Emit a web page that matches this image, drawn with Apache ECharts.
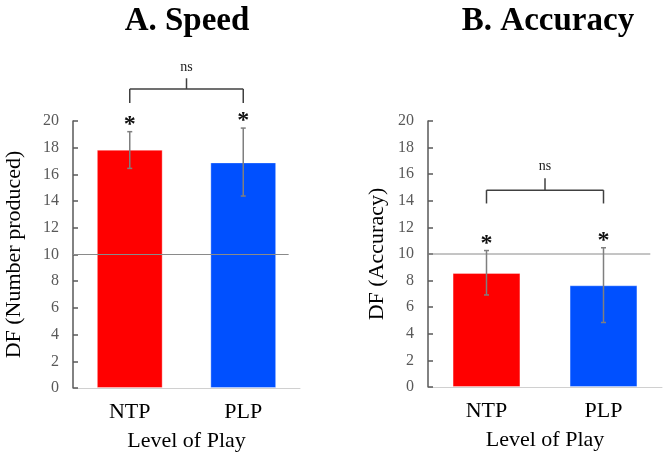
<!DOCTYPE html>
<html>
<head>
<meta charset="utf-8">
<script src="https://cdn.jsdelivr.net/npm/echarts@6/dist/echarts.min.js"></script>
<style>html,body{margin:0;padding:0;background:#fff;}#c{width:664px;height:453px;}</style>
</head>
<body>
<div id="c"></div>
<script>
const categories = ['NTP', 'PLP'];
const speedMeans = [17.85, 16.9];
const speedLow = [16.45, 14.38];
const speedHigh = [19.2, 19.47];
const accMeans = [8.58, 7.65];
const accLow = [6.92, 4.85];
const accHigh = [10.26, 10.47];
const yTicks = [0, 20, 2];
const refValue = 10;
const titles = ['A. Speed', 'B. Accuracy'];
const yNames = ['DF (Number produced)', 'DF (Accuracy)'];
const xName = 'Level of Play';
const barColors = ['#FF0000', '#0050FF'];
const sigMarks = ['*', '*'];
const nsLabel = 'ns';

const SERIF = '"Liberation Serif", "DejaVu Serif", serif';
const chart = echarts.init(document.getElementById('c'), null, {renderer: 'canvas'});

// bracket placement (in value units) for each panel
const bracketCfg = [
  {base: 22.4, leg: 21.35, tick: 23.2, text: 24.0},
  {base: 14.8, leg: 13.8, tick: 15.7, text: 16.6}
];

function yAxisFor(idx, nameGap) {
  return {
    type: 'value', gridIndex: idx, min: yTicks[0], max: yTicks[1], interval: yTicks[2],
    name: yNames[idx], nameLocation: 'middle', nameGap: nameGap, nameRotate: 90,
    nameTextStyle: {fontFamily: SERIF, fontSize: 22, color: '#000'},
    axisLine: {show: true, lineStyle: {color: '#595959', width: 1.5}},
    axisTick: {show: true, inside: true, length: 5, lineStyle: {color: '#595959', width: 1.5}},
    axisLabel: {fontFamily: SERIF, fontSize: 16, color: '#595959', margin: 14},
    splitLine: {show: false}
  };
}
function xAxisFor(idx) {
  return {
    type: 'category', gridIndex: idx, data: categories,
    name: xName, nameLocation: 'middle', nameGap: 42,
    nameTextStyle: {fontFamily: SERIF, fontSize: 22, color: '#000'},
    axisLine: {show: true, lineStyle: {color: '#d0d0d0', width: 1}},
    axisTick: {show: false},
    axisLabel: {fontFamily: SERIF, fontSize: 22, color: '#000', margin: 13}
  };
}

function barSeries(idx, means) {
  return {
    type: 'bar', xAxisIndex: idx, yAxisIndex: idx, barWidth: '58%', z: 2,
    data: means.map((v, i) => ({value: v, itemStyle: {color: barColors[i], borderColor: 'rgba(255,255,255,0.35)', borderWidth: 1}})),
    silent: true, animation: false
  };
}

function errorSeries(idx, means, low, high) {
  return {
    type: 'custom', xAxisIndex: idx, yAxisIndex: idx, clip: false, animation: false, silent: true, z: 6,
    data: means.map((m, i) => [i, m, low[i], high[i]]),
    renderItem: function (params, api) {
      const i = api.value(0);
      const pHi = api.coord([i, api.value(3)]);
      const pLo = api.coord([i, api.value(2)]);
      const st = {stroke: '#7f7f7f', lineWidth: 1.5};
      return {
        type: 'group', children: [
          {type: 'line', shape: {x1: pHi[0], y1: pHi[1], x2: pLo[0], y2: pLo[1]}, style: st},
          {type: 'line', shape: {x1: pHi[0] - 2.5, y1: pHi[1], x2: pHi[0] + 2.5, y2: pHi[1]}, style: st},
          {type: 'line', shape: {x1: pLo[0] - 2.5, y1: pLo[1], x2: pLo[0] + 2.5, y2: pLo[1]}, style: st},
          {type: 'text', style: {text: sigMarks[i], x: pHi[0], y: pHi[1] - 7, align: 'center', verticalAlign: 'middle',
            font: 'bold 24px ' + SERIF, fill: '#111'}}
        ]
      };
    }
  };
}

function annotSeries(idx) {
  const b = bracketCfg[idx];
  return {
    type: 'custom', xAxisIndex: idx, yAxisIndex: idx, clip: false, animation: false, silent: true, z: 5,
    data: [[0, refValue]],
    renderItem: function (params, api) {
      const band = api.size([1, 0])[0];
      const r0 = api.coord([0, refValue]);
      const r1 = api.coord([1, refValue]);
      const a = api.coord([0, b.base]);
      const c = api.coord([1, b.base]);
      const aL = api.coord([0, b.leg]);
      const mid = (a[0] + c[0]) / 2;
      const tk = api.coord([0, b.tick]);
      const tx = api.coord([0, b.text]);
      const st = {stroke: '#404040', lineWidth: 1.5};
      return {
        type: 'group', children: [
          {type: 'line', shape: {x1: r0[0] - band / 2, y1: r0[1], x2: r1[0] + band * 0.4, y2: r1[1]}, style: {stroke: '#8a8a8a', lineWidth: 1}},
          {type: 'line', shape: {x1: a[0], y1: a[1], x2: c[0], y2: c[1]}, style: st},
          {type: 'line', shape: {x1: a[0], y1: a[1], x2: a[0], y2: aL[1]}, style: st},
          {type: 'line', shape: {x1: c[0], y1: c[1], x2: c[0], y2: aL[1]}, style: st},
          {type: 'line', shape: {x1: mid, y1: a[1], x2: mid, y2: tk[1]}, style: st},
          {type: 'text', style: {text: nsLabel, x: mid, y: tx[1], align: 'center', verticalAlign: 'middle', font: '14px ' + SERIF, fill: '#222'}}
        ]
      };
    }
  };
}

chart.setOption({
  backgroundColor: '#fff',
  animation: false,
  title: [
    {text: titles[0], left: 182, top: 0, textAlign: 'center', textStyle: {fontFamily: SERIF, fontWeight: 'bold', fontSize: 33, color: '#000'}},
    {text: titles[1], left: 543, top: 0, textAlign: 'center', textStyle: {fontFamily: SERIF, fontWeight: 'bold', fontSize: 33, color: '#000'}}
  ],
  grid: [
    {left: 73, top: 121, width: 227, height: 267, containLabel: false, outerBoundsMode: 'none'},
    {left: 428, top: 121, width: 234, height: 266, containLabel: false, outerBoundsMode: 'none'}
  ],
  xAxis: [xAxisFor(0), xAxisFor(1)],
  yAxis: [yAxisFor(0, 48), yAxisFor(1, 40)],
  series: [
    barSeries(0, speedMeans),
    barSeries(1, accMeans),
    annotSeries(0),
    annotSeries(1),
    errorSeries(0, speedMeans, speedLow, speedHigh),
    errorSeries(1, accMeans, accLow, accHigh)
  ]
});
</script>
</body>
</html>
